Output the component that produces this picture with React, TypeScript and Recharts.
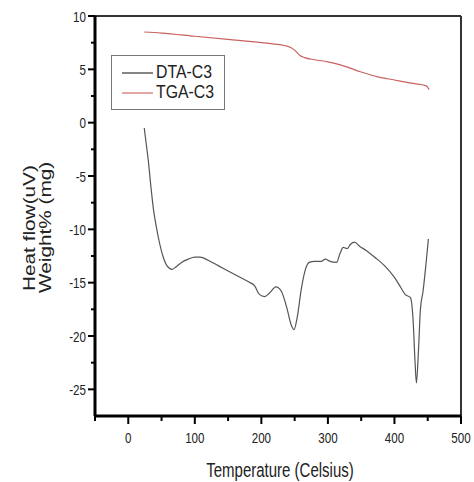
import { LineChart, Line, XAxis, YAxis, ReferenceLine } from 'recharts';

const dtaTemps = [24, 27, 30, 34, 38, 42, 46, 52, 58, 66, 72, 80, 90, 100, 108, 120, 135, 150, 165, 180, 190, 197, 205, 212, 222, 230, 238, 245, 249, 254, 260, 266, 272, 280, 290, 296, 303, 313, 318, 323, 329, 334, 340, 348, 358, 370, 385, 400, 410, 416, 424, 428, 431, 433, 436, 439, 443, 447, 451];
const dtaValues = [-0.5, -2.0, -3.5, -6.0, -8.2, -9.7, -11.0, -12.5, -13.4, -13.75, -13.5, -13.1, -12.8, -12.6, -12.6, -12.9, -13.4, -13.9, -14.4, -14.9, -15.3, -16.1, -16.3, -16.0, -15.4, -15.8, -17.3, -19.0, -19.4, -18.2, -15.6, -13.8, -13.1, -13.0, -13.0, -12.8, -13.0, -13.1, -12.3, -11.7, -11.8, -11.4, -11.2, -11.6, -12.0, -12.6, -13.4, -14.5, -15.5, -16.1, -16.4, -18.5, -22.5, -24.4, -21.5, -17.5, -15.8, -13.5, -10.9];

const tgaTemps = [24, 50, 100, 150, 200, 240, 250, 258, 265, 280, 300, 320, 350, 375, 400, 425, 448, 452];
const tgaValues = [8.5, 8.4, 8.1, 7.8, 7.5, 7.15, 6.8, 6.3, 6.1, 5.9, 5.7, 5.4, 4.75, 4.3, 4.0, 3.7, 3.45, 3.1];

const xTicks = [-50, 0, 50, 100, 150, 200, 250, 300, 350, 400, 450, 500];
const yTicks = [10, 7.5, 5, 2.5, 0, -2.5, -5, -7.5, -10, -12.5, -15, -17.5, -20, -22.5, -25];

const dta = dtaTemps.map((t, i) => ({ t, v: dtaValues[i] }));
const tga = tgaTemps.map((t, i) => ({ t, v: tgaValues[i] }));

const FONT = "'Liberation Sans', Arial, sans-serif";

const XTick = (props: any) => {
  const { x, y, payload } = props;
  const major = payload.value % 100 === 0;
  return (
    <g>
      <line x1={x} y1={y} x2={x} y2={y + (major ? 8 : 5)} stroke="#000" strokeWidth={2} />
      {major && (
        <text
          transform={`translate(${x},${y + 27}) scale(0.8,1)`}
          textAnchor="middle"
          fontSize={14.5}
          fontFamily={FONT}
          fill="#222"
        >
          {payload.value}
        </text>
      )}
    </g>
  );
};

const YTick = (props: any) => {
  const { x, y, payload } = props;
  const major = payload.value % 5 === 0;
  return (
    <g>
      <line x1={x} y1={y} x2={x - (major ? 7 : 4)} y2={y} stroke="#000" strokeWidth={2} />
      {major && (
        <text
          transform={`translate(${x - 9},${y + 5.5}) scale(0.8,1)`}
          textAnchor="end"
          fontSize={14.5}
          fontFamily={FONT}
          fill="#222"
        >
          {payload.value}
        </text>
      )}
    </g>
  );
};

const LegendBox = () => (
  <g>
    <rect x={111.5} y={55.5} width={113} height={54} fill="#fff" stroke="#777" strokeWidth={1} />
    <line x1={122} y1={73} x2={153} y2={73} stroke="#333" strokeWidth={1.2} />
    <text transform="translate(156,78) scale(0.88,1)" fontSize={18} fontFamily={FONT} fill="#222">DTA-C3</text>
    <line x1={122} y1={93} x2={153} y2={93} stroke="#d06a68" strokeWidth={1.2} />
    <text transform="translate(156,98) scale(0.88,1)" fontSize={18} fontFamily={FONT} fill="#222">TGA-C3</text>
  </g>
);

const Labels = () => (
  <g fontFamily={FONT} fill="#222">
    <text transform="translate(35,291) rotate(-90) scale(1,0.77)" fontSize={20.8}>Heat flow(uV)</text>
    <text transform="translate(51,293) rotate(-90) scale(1,0.77)" fontSize={20.8}>Weight% (mg)</text>
    <text transform="translate(280,477) scale(0.77,1)" textAnchor="middle" fontSize={19.5}>Temperature (Celsius)</text>
  </g>
);

const App = () => {
  return (
    <div style={{ position: 'absolute', left: 0, top: 0, background: '#fff' }}>
      <LineChart width={474} height={482} margin={{ top: 16, right: 13, bottom: 0, left: 0 }}>
        <XAxis
          type="number"
          dataKey="t"
          domain={[-50, 500]}
          ticks={xTicks}
          interval={0}
          height={66}
          tickSize={0}
          tickMargin={0}
          tickLine={false}
          tick={<XTick />}
          axisLine={{ stroke: '#000', strokeWidth: 3 }}
          allowDataOverflow
        />
        <YAxis
          type="number"
          domain={[-27.5, 10]}
          ticks={yTicks}
          interval={0}
          width={95}
          tickSize={0}
          tickMargin={0}
          tickLine={false}
          tick={<YTick />}
          axisLine={{ stroke: '#000', strokeWidth: 3 }}
          allowDataOverflow
        />
        <ReferenceLine y={10} stroke="#333" strokeWidth={2} />
        <ReferenceLine x={500} stroke="#333" strokeWidth={2} />
        <Line data={dta} dataKey="v" type="monotone" stroke="#555" strokeWidth={1.2} dot={false} isAnimationActive={false} />
        <Line data={tga} dataKey="v" type="monotone" stroke="#c8625f" strokeWidth={1.2} dot={false} isAnimationActive={false} />
        <LegendBox />
        <Labels />
      </LineChart>
    </div>
  );
};

export default App;
